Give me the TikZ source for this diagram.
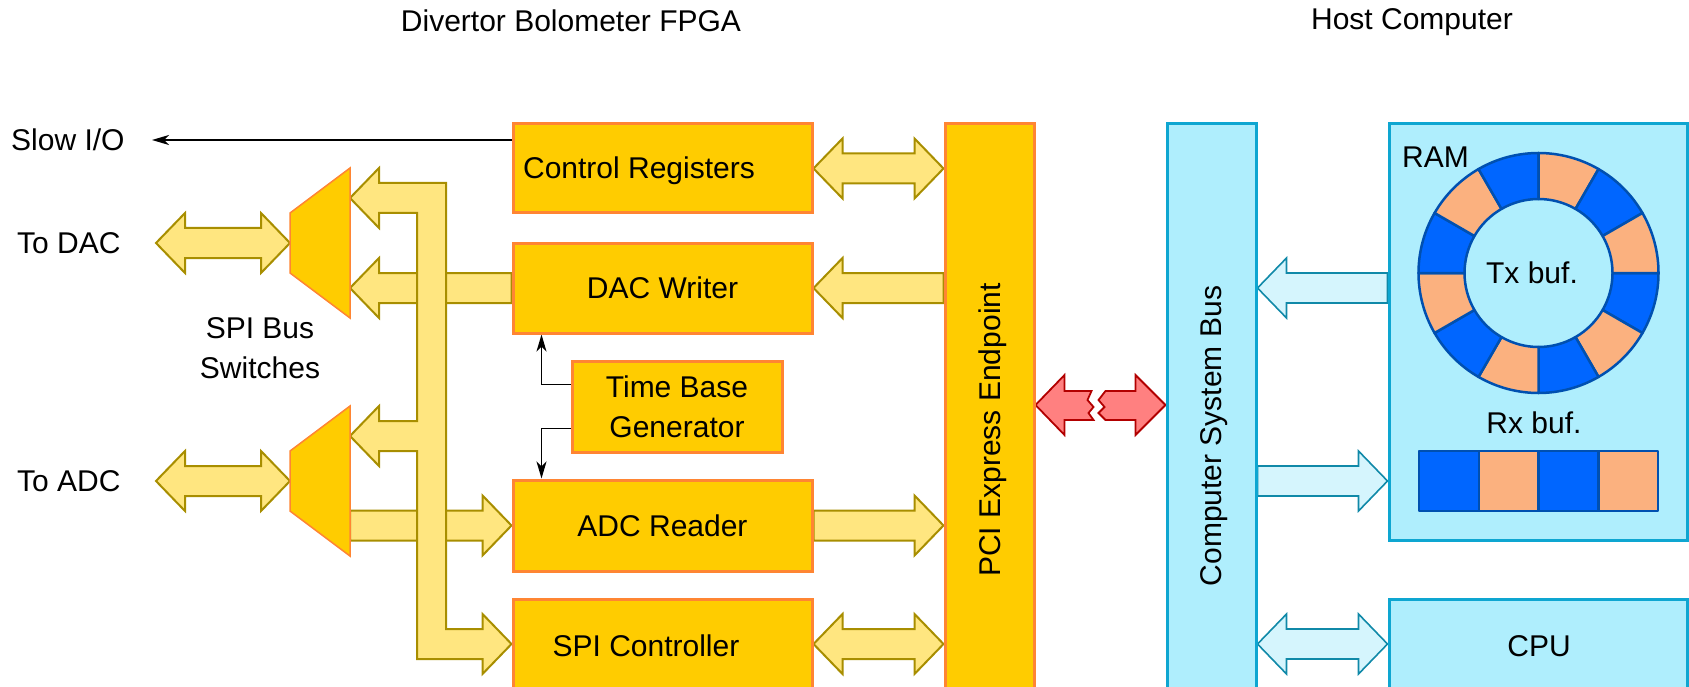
\documentclass[tikz,border=0pt]{standalone}
\usepackage{fontspec}
\setmainfont{Liberation Sans}
\usetikzlibrary{calc,arrows.meta,backgrounds}

\definecolor{fpgafill}{HTML}{FFCC00}
\definecolor{fpgaline}{HTML}{FF8533}
\definecolor{busfill}{HTML}{FFE680}
\definecolor{busline}{HTML}{A88E00}
\definecolor{hostfill}{HTML}{AFEEFD}
\definecolor{hostline}{HTML}{0EA6D1}
\definecolor{hostarrowfill}{HTML}{D5F5FD}
\definecolor{hostarrowline}{HTML}{1089A8}
\definecolor{linkfill}{HTML}{FF8080}
\definecolor{linkline}{HTML}{B20000}
\definecolor{slotblue}{HTML}{0066FF}
\definecolor{slotpeach}{HTML}{FBB17F}
\definecolor{slotline}{HTML}{0050B0}

\tikzset{
  base/.style={font=\fontsize{30}{40}\selectfont, inner sep=0pt, align=center},
  txt/.style={base, text height=21.5pt, text depth=0pt},
  fpgabox/.style={draw=fpgaline, fill=fpgafill, line width=3pt},
  hostbox/.style={draw=hostline, fill=hostfill, line width=3pt},
  busarrow/.style={draw=busline, fill=busfill, line width=2pt},
  hostarrow/.style={draw=hostarrowline, fill=hostarrowfill, line width=1.6pt},
  linkarrow/.style={draw=linkline, fill=linkfill, line width=1.8pt},
  muxshape/.style={draw=fpgaline, fill=fpgafill, line width=1.5pt},
  sig/.style={line width=1.5pt, -{Stealth[length=17pt,width=10pt,inset=5pt]}},
  slot/.style={draw=slotline, line width=2.5pt, line join=round},
}

% block arrows: #1 style, #2 tail / left end, #3 tip / right end
\newcommand\arrowRight[3]{\path[#1] let \p1=#2, \p2=#3 in
  (\x1,\y2+15pt) -- (\x2-29pt,\y2+15pt) -- (\x2-29pt,\y2+30pt) -- (\x2,\y2)
  -- (\x2-29pt,\y2-30pt) -- (\x2-29pt,\y2-15pt) -- (\x1,\y2-15pt) -- cycle;}
\newcommand\arrowLeft[3]{\path[#1] let \p1=#2, \p2=#3 in
  (\x1,\y2+15pt) -- (\x2+29pt,\y2+15pt) -- (\x2+29pt,\y2+30pt) -- (\x2,\y2)
  -- (\x2+29pt,\y2-30pt) -- (\x2+29pt,\y2-15pt) -- (\x1,\y2-15pt) -- cycle;}
\newcommand\arrowBoth[3]{\path[#1] let \p1=#2, \p2=#3 in
  (\x1,\y2) -- (\x1+29pt,\y2+30pt) -- (\x1+29pt,\y2+15pt) -- (\x2-29pt,\y2+15pt)
  -- (\x2-29pt,\y2+30pt) -- (\x2,\y2) -- (\x2-29pt,\y2-30pt) -- (\x2-29pt,\y2-15pt)
  -- (\x1+29pt,\y2-15pt) -- (\x1+29pt,\y2-30pt) -- cycle;}

\begin{document}
\begin{tikzpicture}[x=1pt,y=-1pt]
\useasboundingbox (0,0) rectangle (1689,687);
\clip (0,0) rectangle (1689,687);

% titles
\node[txt] (fpgatitle) at (571,21) {Divertor Bolometer FPGA};
\node[txt] (hosttitle) at (1412,19) {Host Computer};

% FPGA blocks
\node[fpgabox, minimum width=299pt, minimum height=89pt] (cr) at (662.5,168.5) {};
\node[txt] (crtext) at (639,168) {Control Registers};
\node[fpgabox, txt, minimum width=299pt, minimum height=90pt] (dac) at (662.5,288) {DAC Writer};
\node[fpgabox, base, minimum width=210pt, minimum height=91pt] (tbg) at (677,406.5) {Time Base\\Generator};
\node[fpgabox, txt, minimum width=299pt, minimum height=91pt] (adc) at (662.5,525.5) {ADC Reader};
\node[fpgabox, minimum width=299pt, minimum height=90pt] (spi) at (662.5,644) {};
\node[txt] (spitext) at (646,646) {SPI Controller};
\node[fpgabox, minimum width=89pt, minimum height=590pt] (pci) at (989.5,419) {};
\node[txt, rotate=90] (pcitext) at (989.5,430) {PCI Express Endpoint};

% host blocks
\node[hostbox, minimum width=89pt, minimum height=590pt] (csb) at (1211.5,419) {};
\node[txt, rotate=90] (csbtext) at (1211,436) {Computer System Bus};
\node[hostbox, minimum width=298pt, minimum height=416pt] (ram) at (1538,332) {};
\node[txt, anchor=west] (ramtext) at (1402,157) {RAM};
\node[hostbox, minimum width=298pt, minimum height=100pt] (cpu) at (1538,649) {};
\node[txt] (cputext) at (1539,646) {CPU};

% SPI bus switches
\coordinate (m1) at (320,243);
\coordinate (m2) at (320,481);
\foreach \m in {m1,m2}
  \path[muxshape] ([shift={(-30,-30)}]\m) -- ([shift={(30,-75)}]\m)
    -- ([shift={(30,75)}]\m) -- ([shift={(-30,30)}]\m) -- cycle;

% outside labels
\node[txt, anchor=west] (slowio) at (11,140) {Slow I/O};
\node[txt, anchor=west] (todac) at (17,243) {To DAC};
\node[txt, anchor=west] (toadc) at (17,481) {To ADC};
\node[base] (spisw) at (260,348) {SPI Bus\\Switches};

% transmit ring buffer
\coordinate (ring) at (1538.5,273);
\foreach \k in {0,...,11} {
  \pgfmathsetmacro\a{30*\k}
  \pgfmathsetmacro\b{30*\k+30}
  \pgfmathparse{mod(\k,2)==1 ? "slotpeach" : "slotblue"}
  \edef\slotcol{\pgfmathresult}
  \path[slot, fill=\slotcol] ($(ring)+(\a:74)$) -- ($(ring)+(\a:120)$)
    arc[start angle=\a, end angle=\b, radius=120] -- ($(ring)+(\b:74)$)
    arc[start angle=\b, end angle=\a, radius=74] -- cycle;
}
\node[txt] (txtext) at (1532,273) {Tx buf.};

% receive buffer
\foreach \i/\c in {0/slotblue,1/slotpeach,2/slotblue,3/slotpeach}
  \path[slot, fill=\c] (1419+59.75*\i,451) rectangle ++(59.75,60);
\node[txt] (rxtext) at (1534,423) {Rx buf.};

\begin{pgfonlayer}{background}
  % free ends of the outside links
  \coordinate (slowend) at (152,140);
  \coordinate (dacline) at (156,243);
  \coordinate (adcline) at (156,481);
  \coordinate (busx) at (431.5,0);
  \coordinate (linky) at (0,405);
  \coordinate (txy) at (0,288);
  \coordinate (rxy) at (0,481);
  \coordinate (cpuy) at (0,644);

  \draw[sig] (cr.west |- slowend) -- (slowend);
  \draw[sig] ([yshift=22pt]tbg.west) -| ([xshift=30pt]dac.south west);
  \draw[sig] ([yshift=-22pt]tbg.west) -| ([xshift=30pt]adc.north west);

  \arrowBoth{busarrow}{(dacline)}{([xshift=-30pt]m1)}
  \arrowBoth{busarrow}{(adcline)}{([xshift=-30pt]m2)}
  \arrowLeft{busarrow}{(dac.west)}{([shift={(30,45)}]m1)}
  \arrowRight{busarrow}{([shift={(30,45)}]m2)}{(adc.west)}

  % SPI bus from the controller to both switches
  \path[busarrow] let \p1=([shift={(30,-45)}]m1), \p2=([shift={(30,-45)}]m2),
      \p3=(spi.west), \p4=(busx) in
    (\x1,\y1) -- (\x1+29pt,\y1+30pt) -- (\x1+29pt,\y1+15pt) -- (\x4+14.5pt,\y1+15pt)
    -- (\x4+14.5pt,\y3+15pt) -- (\x3-29pt,\y3+15pt) -- (\x3-29pt,\y3+30pt) -- (\x3,\y3)
    -- (\x3-29pt,\y3-30pt) -- (\x3-29pt,\y3-15pt) -- (\x4-14.5pt,\y3-15pt)
    -- (\x4-14.5pt,\y2-15pt) -- (\x2+29pt,\y2-15pt) -- (\x2+29pt,\y2-30pt) -- (\x2,\y2)
    -- (\x2+29pt,\y2+30pt) -- (\x2+29pt,\y2+15pt) -- (\x4-14.5pt,\y2+15pt)
    -- (\x4-14.5pt,\y1-15pt) -- (\x1+29pt,\y1-15pt) -- (\x1+29pt,\y1-30pt) -- cycle;

  \arrowBoth{busarrow}{(cr.east)}{(pci.west |- cr.east)}
  \arrowLeft{busarrow}{(pci.west |- dac.east)}{(dac.east)}
  \arrowRight{busarrow}{(adc.east)}{(pci.west |- adc.east)}
  \arrowBoth{busarrow}{(spi.east)}{(pci.west |- spi.east)}

  % PCI Express link
  \coordinate (linkl) at (pci.east |- linky);
  \coordinate (linkr) at (csb.west |- linky);
  \begin{scope}[shift={(linkl)}]
    \path[linkarrow] (0,0) -- (29,-30) -- (29,-14) -- (56,-14) -- (52,-5) -- (58,2)
      -- (53,8) -- (58,15) -- (29,15) -- (29,30) -- cycle;
  \end{scope}
  \begin{scope}[shift={(linkr)}]
    \path[linkarrow] (0,0) -- (-30,-30) -- (-30,-14) -- (-60,-14) -- (-67,-5) -- (-61,2)
      -- (-67,8) -- (-60,15) -- (-30,15) -- (-30,30) -- cycle;
  \end{scope}

  \arrowLeft{hostarrow}{(ram.west |- txy)}{(csb.east |- txy)}
  \arrowRight{hostarrow}{(csb.east |- rxy)}{(ram.west |- rxy)}
  \arrowBoth{hostarrow}{(csb.east |- cpuy)}{(cpu.west |- cpuy)}
\end{pgfonlayer}
\end{tikzpicture}
\end{document}
